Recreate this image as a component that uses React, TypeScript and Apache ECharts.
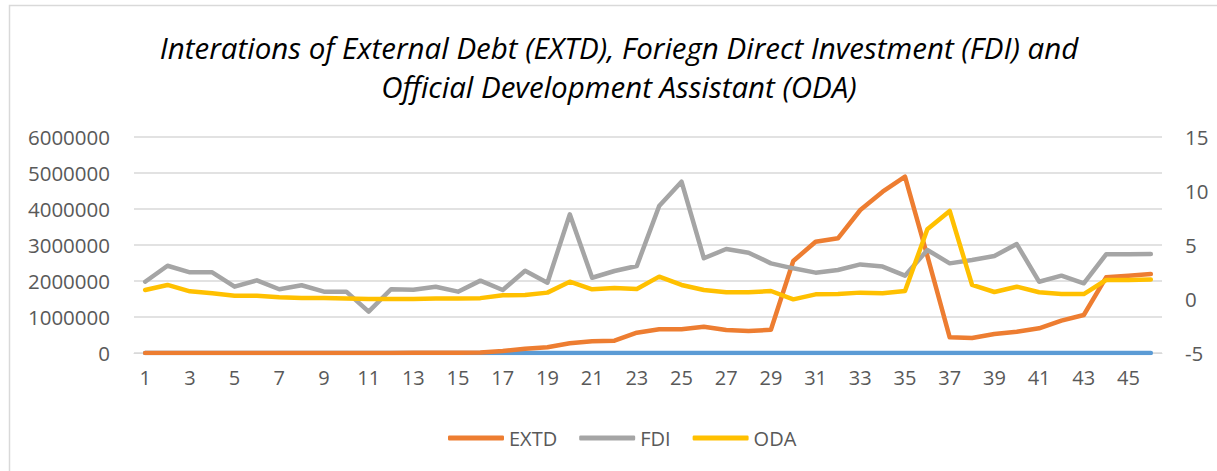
import React, { useEffect, useRef } from "react";
import * as echarts from "echarts";

const categories = Array.from({ length: 46 }, (_, i) => String(i + 1));

const extd = [
  0, 0, 0, 0, 0, 0, 0, 0, 0, 0,
  2000, 3000, 4000, 5000, 8000, 12000, 55000, 120000, 158000, 270000,
  325000, 342000, 565000, 658000, 658000, 731000, 640000, 611000, 645000, 2555000,
  3090000, 3185000, 3972000, 4480000, 4898000, 2700000, 435000, 416000, 527000, 593000,
  685000, 898000, 1055000, 2102000, 2148000, 2194000,
];

const fdi = [
  1.6, 3.08, 2.47, 2.47, 1.14, 1.73, 0.9, 1.27, 0.68, 0.68,
  -1.17, 0.9, 0.85, 1.14, 0.68, 1.7, 0.83, 2.62, 1.51, 7.84,
  1.97, 2.59, 3.06, 8.61, 10.86, 3.77, 4.63, 4.29, 3.3, 2.84,
  2.44, 2.69, 3.2, 3.0, 2.16, 4.54, 3.3, 3.61, 3.98, 5.09,
  1.6, 2.16, 1.45, 4.14, 4.14, 4.17,
];

const oda = [
  0.83, 1.3, 0.71, 0.53, 0.31, 0.31, 0.16, 0.09, 0.1, 0.05,
  0.0, 0.0, 0.0, 0.05, 0.05, 0.08, 0.34, 0.37, 0.59, 1.6,
  0.9, 1.02, 0.93, 2.07, 1.3, 0.83, 0.62, 0.62, 0.74, -0.03,
  0.43, 0.46, 0.59, 0.53, 0.74, 6.45, 8.15, 1.3, 0.65, 1.14,
  0.62, 0.46, 0.46, 1.76, 1.76, 1.8,
];

const baseSeries = [
  0, 0, 0, 0, 0, 0, 0, 0, 0, 0,
  0, 0, 0, 0, 0, 0, 0, 0, 0, 0,
  0, 0, 0, 0, 0, 0, 0, 0, 0, 0,
  0, 0, 0, 0, 0, 0, 0, 0, 0, 0,
  0, 0, 0, 0, 0, 0,
];

const titleLines = [
  "Interations of External Debt (EXTD), Foriegn Direct Investment (FDI) and",
  "Official Development Assistant (ODA)",
];

const FONT = "'Open Sans', 'Noto Sans', sans-serif";
const TXT = "#595959";

export default function App() {
  const ref = useRef<HTMLDivElement>(null);
  useEffect(() => {
    document.body.style.margin = "0";
    const chart = echarts.init(ref.current!, null, { renderer: "svg" });
    const lineStyle = (color: string) => ({
      color,
      width: 4.5,
      cap: "round" as const,
      join: "round" as const,
    });
    const titleText = (text: string, y: number) => ({
      type: "text",
      x: 619,
      y,
      style: {
        text,
        fontFamily: FONT,
        fontStyle: "italic",
        fontSize: 29.5,
        fill: "#000000",
        textAlign: "center",
        textVerticalAlign: "middle",
      },
    });
    chart.setOption({
      animation: false,
      backgroundColor: "#ffffff",
      graphic: [
        {
          type: "rect",
          silent: true,
          shape: { x: 9.5, y: 5.5, width: 1400, height: 600 },
          style: { fill: "none", stroke: "#D9D9D9", lineWidth: 1.5 },
        },
        titleText(titleLines[0], 47),
        titleText(titleLines[1], 86),
      ],
      grid: { left: 134, right: 55, top: 137, bottom: 118, containLabel: false },
      legend: {
        data: ["EXTD", "FDI", "ODA"],
        left: 443,
        top: 423,
        icon: "roundRect",
        itemWidth: 56,
        itemHeight: 5,
        itemGap: 22,
        textStyle: { fontFamily: FONT, fontSize: 20, color: TXT },
      },
      xAxis: {
        type: "category",
        data: categories,
        boundaryGap: true,
        axisLine: { show: true, lineStyle: { color: "#D9D9D9", width: 1 } },
        axisTick: { show: false },
        axisLabel: {
          interval: 1,
          margin: 14,
          fontFamily: FONT,
          fontSize: 20,
          color: TXT,
        },
      },
      yAxis: [
        {
          type: "value",
          min: 0,
          max: 6000000,
          interval: 1000000,
          axisLine: { show: false },
          axisTick: { show: false },
          splitLine: { lineStyle: { color: "#D9D9D9", width: 1.5 } },
          axisLabel: {
            margin: 24,
            fontFamily: FONT,
            fontSize: 20.5,
            color: TXT,
            formatter: (v: number) => String(v),
          },
        },
        {
          type: "value",
          min: -5,
          max: 15,
          interval: 5,
          axisLine: { show: false },
          axisTick: { show: false },
          splitLine: { show: false },
          axisLabel: { margin: 23, fontFamily: FONT, fontSize: 20.5, color: TXT },
        },
      ],
      series: [
        {
          name: "Base",
          type: "line",
          yAxisIndex: 0,
          data: baseSeries,
          showSymbol: false,
          lineStyle: lineStyle("#5B9BD5"),
          itemStyle: { color: "#5B9BD5" },
        },
        {
          name: "EXTD",
          type: "line",
          yAxisIndex: 0,
          data: extd,
          showSymbol: false,
          lineStyle: lineStyle("#ED7D31"),
          itemStyle: { color: "#ED7D31" },
        },
        {
          name: "FDI",
          type: "line",
          yAxisIndex: 1,
          data: fdi,
          showSymbol: false,
          lineStyle: lineStyle("#A5A5A5"),
          itemStyle: { color: "#A5A5A5" },
        },
        {
          name: "ODA",
          type: "line",
          yAxisIndex: 1,
          data: oda,
          showSymbol: false,
          lineStyle: lineStyle("#FFC000"),
          itemStyle: { color: "#FFC000" },
        },
      ],
    });
    return () => chart.dispose();
  }, []);
  return <div ref={ref} style={{ width: 1217, height: 471 }} />;
}
